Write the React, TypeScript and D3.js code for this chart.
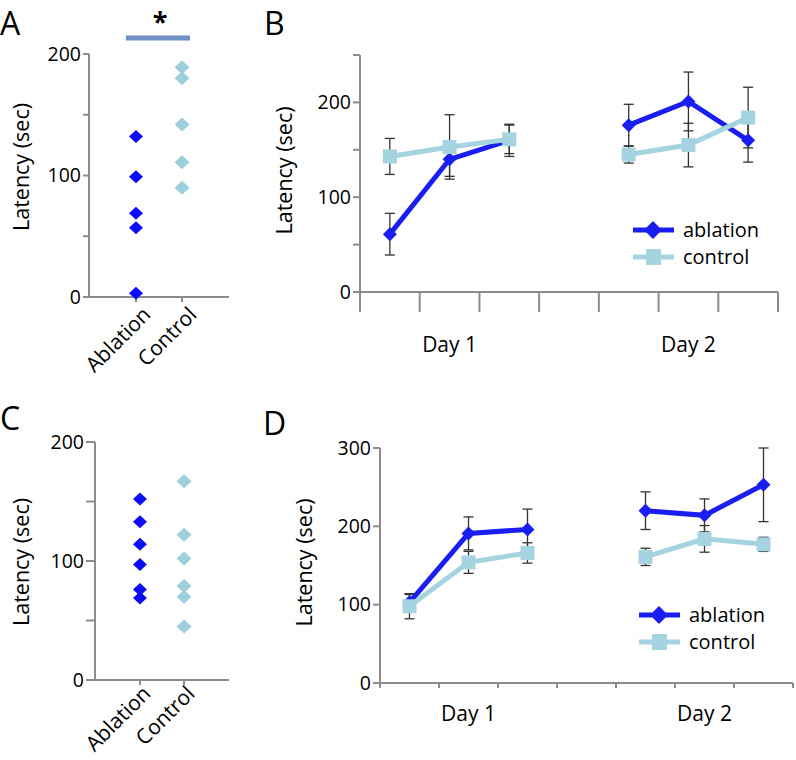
import React from 'react';
import * as d3 from 'd3';

// colours and font
const FONT = '"Open Sans", sans-serif';
const ABL = '#1a1ef0';
const ABL_DOT = '#0c0cf6';
const CTL = '#a5d3df';
const CTL_DOT = '#9dcfdc';
const AXIS = '#8c8c8c';
const SIG = '#7090c8';

// panels A and C: individual animals
const groups = ['Ablation', 'Control'];
const scatterTicks = [0, 50, 100, 150, 200];
const panelAAblation = [132, 99, 69, 57, 3];
const panelAControl = [189, 180, 142, 111, 90];
const panelCAblation = [152, 133, 114, 97, 76, 69];
const panelCControl = [167, 122, 102, 79, 70, 45];

// panels B and D: mean latency per trial (slot 'gap' separates the days)
const slots = ['d1-1', 'd1-2', 'd1-3', 'gap', 'd2-1', 'd2-2', 'd2-3'];
const trialSlots = ['d1-1', 'd1-2', 'd1-3', 'd2-1', 'd2-2', 'd2-3'];
const dayLabels = ['Day 1', 'Day 2'];
const daySlots = ['d1-2', 'd2-2'];
const seriesNames = ['ablation', 'control'];

const panelBTicks = [0, 50, 100, 150, 200, 250];
const panelBAblation = [61, 140, 160, 176, 201, 160];
const panelBAblationErr = [22, 18, 17, 22, 31, 23];
const panelBControl = [143, 153, 161, 145, 155, 184];
const panelBControlErr = [19, 34, 15, 9, 23, 32];

const panelDTicks = [0, 100, 200, 300];
const panelDAblation = [103, 191, 196, 220, 214, 253];
const panelDAblationErr = [10, 21, 26, 24, 21, 47];
const panelDControl = [98, 154, 166, 161, 184, 177];
const panelDControlErr = [16, 14, 13, 11, 17, 9];

const diamond = (w: number, h: number) => `M0,${-h}L${w},0L0,${h}L${-w},0Z`;

function ScatterPanel({ letter, letterY, left, right, top, bottom, tickLen, titleY, labelDy, abl, ctl, sig }: any) {
  const y = d3.scaleLinear().domain([0, 200]).range([bottom, top]);
  const x = d3.scalePoint<string>().domain(groups).range([left, right]).padding(1.02);
  const xa = x('Ablation') as number;
  const xc = x('Control') as number;
  return (
    <g fontFamily={FONT}>
      <text x={0} y={letterY} fontSize={32}>{letter}</text>
      <line x1={left} x2={left} y1={top} y2={bottom} stroke={AXIS} strokeWidth={2} />
      <line x1={left - tickLen} x2={right} y1={bottom} y2={bottom} stroke={AXIS} strokeWidth={2} />
      {scatterTicks.map((t) => (
        <g key={t}>
          <line x1={left - tickLen} x2={left} y1={y(t)} y2={y(t)} stroke={AXIS} strokeWidth={2} />
          {t % 100 === 0 && (
            <text x={left - tickLen - 2} y={y(t)} dy="0.35em" textAnchor="end" fontSize={19.5}>{t}</text>
          )}
        </g>
      ))}
      {groups.map((g) => (
        <g key={g}>
          <line x1={x(g)} x2={x(g)} y1={bottom} y2={bottom + 5} stroke={AXIS} strokeWidth={2} />
          <text
            transform={`translate(${(x(g) as number) + labelDy - 3},${bottom + labelDy}) rotate(-45)`}
            textAnchor="end"
            fontSize={21}
          >{g}</text>
        </g>
      ))}
      <text transform={`translate(29,${titleY}) rotate(-90)`} textAnchor="middle" fontSize={21.5}>
        Latency (sec)
      </text>
      {abl.map((v: number, i: number) => (
        <path key={'a' + i} d={diamond(7, 6.5)} transform={`translate(${xa},${y(v)})`} fill={ABL_DOT} />
      ))}
      {ctl.map((v: number, i: number) => (
        <path key={'c' + i} d={diamond(7.5, 7)} transform={`translate(${xc},${y(v)})`} fill={CTL_DOT} />
      ))}
      {sig && (
        <g>
          <line x1={xa - 10} x2={xc + 8} y1={38} y2={38} stroke={SIG} strokeWidth={5} />
          <text x={(xa + xc) / 2 + 1} y={31} textAnchor="middle" fontSize={27} fontWeight="bold">*</text>
        </g>
      )}
    </g>
  );
}

function LinePanel(props: any) {
  const { letter, letterX, letterY, left, right, top, bottom, yMax, ticks, labelEvery, xTickLen,
    abl, ablErr, ctl, ctlErr, legendX, legendY, dayY } = props;
  const y = d3.scaleLinear().domain([0, yMax]).range([bottom, top]);
  const x = d3.scaleBand<string>().domain(slots).range([left, right]).padding(0);
  const cx = (s: string) => (x(s) as number) + x.bandwidth() / 2;
  // one line per day
  const segments = (vals: number[]) =>
    [0, 1].map((day) =>
      d3.line<number>()
        .x((_, i) => cx(trialSlots[day * 3 + i]))
        .y((d) => y(d))(vals.slice(day * 3, day * 3 + 3))!);
  const err = (vals: number[], errs: number[], key: string) =>
    vals.map((v, i) => {
      const px = cx(trialSlots[i]);
      return (
        <g key={key + i} stroke="#333" strokeWidth={1.3}>
          <line x1={px} x2={px} y1={y(v - errs[i])} y2={y(v + errs[i])} />
          <line x1={px - 5} x2={px + 5} y1={y(v - errs[i])} y2={y(v - errs[i])} />
          <line x1={px - 5} x2={px + 5} y1={y(v + errs[i])} y2={y(v + errs[i])} />
        </g>
      );
    });
  return (
    <g fontFamily={FONT}>
      <text x={letterX} y={letterY} fontSize={32}>{letter}</text>
      <line x1={left} x2={left} y1={top} y2={bottom + xTickLen} stroke={AXIS} strokeWidth={2} />
      <line x1={left - 7} x2={right} y1={bottom} y2={bottom} stroke={AXIS} strokeWidth={2} />
      {ticks.map((t: number) => (
        <g key={t}>
          <line x1={left - 7} x2={left} y1={y(t)} y2={y(t)} stroke={AXIS} strokeWidth={2} />
          {t % labelEvery === 0 && (
            <text x={left - 9} y={y(t)} dy="0.35em" textAnchor="end" fontSize={19.5}>{t}</text>
          )}
        </g>
      ))}
      {[...slots.map((s) => x(s) as number), right].map((px, i) => (
        <line key={i} x1={px} x2={px} y1={bottom} y2={bottom + xTickLen} stroke={AXIS} strokeWidth={2} />
      ))}
      {dayLabels.map((d, i) => (
        <text key={d} x={cx(daySlots[i])} y={dayY} textAnchor="middle" fontSize={21}>{d}</text>
      ))}
      <text transform={`translate(${left - 68},${(top + bottom) / 2 - 3}) rotate(-90)`} textAnchor="middle"
        fontSize={21.5}>
        Latency (sec)
      </text>
      {err(abl, ablErr, 'ea')}
      {err(ctl, ctlErr, 'ec')}
      {segments(abl).map((d, k) => (
        <path key={'la' + k} d={d} fill="none" stroke={ABL} strokeWidth={5} />
      ))}
      {abl.map((v: number, i: number) => (
        <path key={'ma' + i} d={diamond(7, 7)} transform={`translate(${cx(trialSlots[i])},${y(v)})`} fill={ABL} />
      ))}
      {segments(ctl).map((d, k) => (
        <path key={'lc' + k} d={d} fill="none" stroke={CTL} strokeWidth={5} />
      ))}
      {ctl.map((v: number, i: number) => (
        <rect key={'mc' + i} x={cx(trialSlots[i]) - 7} y={y(v) - 7} width={14} height={14} fill={CTL} />
      ))}
      {seriesNames.map((n, i) => {
        const ly = legendY + i * 27;
        return (
          <g key={n}>
            <line x1={legendX} x2={legendX + 41} y1={ly} y2={ly} stroke={i === 0 ? ABL : CTL} strokeWidth={5} />
            {i === 0 ? (
              <path d={diamond(9, 9)} transform={`translate(${legendX + 20},${ly})`} fill={ABL} />
            ) : (
              <rect x={legendX + 13} y={ly - 8} width={15} height={16} fill={CTL} />
            )}
            <text x={legendX + 50} y={ly} dy="0.35em" fontSize={20}>{n}</text>
          </g>
        );
      })}
    </g>
  );
}

export default function App() {
  return (
    <svg width={796} height={760} style={{ position: 'absolute', left: 0, top: 0, background: '#fff' }}>
      <ScatterPanel letter="A" letterY={35} left={89} right={229} top={54} bottom={297} tickLen={6} titleY={167}
        labelDy={19} abl={panelAAblation} ctl={panelAControl} sig />
      <ScatterPanel letter="C" letterY={430} left={95} right={229} top={442} bottom={680} tickLen={9} titleY={562}
        labelDy={15} abl={panelCAblation} ctl={panelCControl} />
      <LinePanel letter="B" letterX={264} letterY={35} left={360} right={778} top={55} bottom={292} yMax={250}
        ticks={panelBTicks} labelEvery={100} xTickLen={20}
        abl={panelBAblation} ablErr={panelBAblationErr} ctl={panelBControl} ctlErr={panelBControlErr}
        legendX={633} legendY={230} dayY={352} />
      <LinePanel letter="D" letterX={263} letterY={435} left={380} right={793} top={448} bottom={683} yMax={300}
        ticks={panelDTicks} labelEvery={100} xTickLen={5}
        abl={panelDAblation} ablErr={panelDAblationErr} ctl={panelDControl} ctlErr={panelDControlErr}
        legendX={639} legendY={615} dayY={721} />
    </svg>
  );
}
